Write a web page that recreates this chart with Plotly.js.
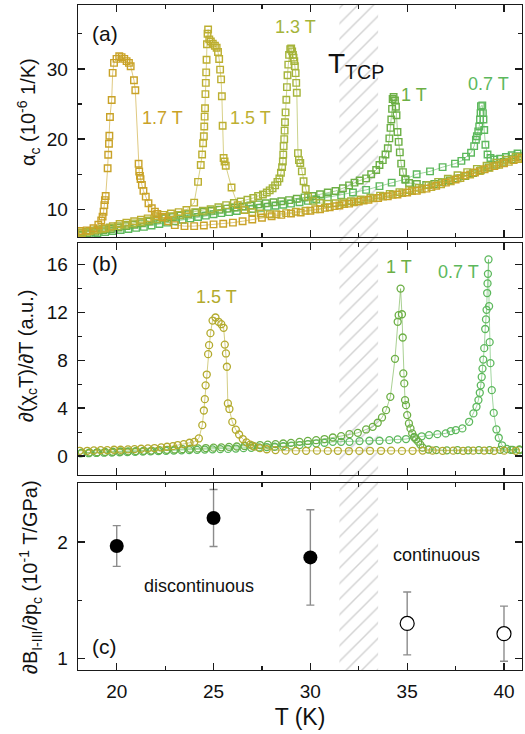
<!DOCTYPE html>
<html><head><meta charset="utf-8">
<script src="https://cdn.plot.ly/plotly-3.0.1.min.js"></script>
<style>html,body{margin:0;padding:0;background:#fff}#chart{width:525px;height:734px}</style>
</head><body><div id="chart"></div>
<script>
// ---------- Panel (a): thermal expansion alpha_c (10^-6 1/K) ----------
const Ta17 = [18.1,18.45,18.8,19.05,19.2,19.27,19.32,19.36,19.39,19.43,19.53,19.56,19.6,19.62,19.65,19.74,19.79,19.86,19.99,20.13,20.25,20.39,20.51,20.63,20.72,20.89,20.96,21.13,21.16,21.2,21.23,21.3,21.38,21.5,21.64,21.81,21.97,22.1,22.35,22.65,23.0,23.5,24.0,24.5,25.0,25.5,26.0,26.5,27.0,27.5,28.0,28.5,29.0,29.5,30.0,30.5,31.0,31.5,32.0,32.5,33.0,33.5,34.0,34.5,35.0,35.5,36.0,36.5,37.0,37.5,38.0,38.5,39.0,39.5,40.0,40.5,40.9];
const Aa17 = [6.9,7.0,7.3,7.8,8.4,8.95,9.66,10.6,11.3,11.9,15.85,17.76,19.33,20.47,23.14,25.57,29.43,30.86,31.43,31.81,31.67,31.43,31.1,30.86,30.38,28.38,26.95,16.48,15.38,14.76,14.29,13.48,12.62,11.81,10.86,10.14,9.67,9.33,8.9,8.3,7.75,7.6,7.6,7.7,7.85,7.95,8.1,8.3,8.55,8.8,9.0,9.2,9.4,9.55,9.8,10.0,10.3,10.55,10.8,11.1,11.35,11.6,11.85,12.1,12.4,12.65,12.95,13.35,13.8,14.25,14.8,15.25,15.7,16.15,16.55,17.0,17.35];

const Ta15 = [18.2,18.6,19.0,19.4,19.8,20.15,20.5,20.9,21.25,21.6,22.0,22.4,22.8,23.2,23.6,24.0,24.2,24.34,24.41,24.46,24.5,24.52,24.54,24.56,24.58,24.6,24.62,24.64,24.66,24.69,24.72,24.78,24.86,24.96,25.07,25.16,25.23,25.29,25.34,25.39,25.43,25.47,25.52,25.57,25.63,25.93,26.25,26.6,27.0,27.45,27.9,28.25,28.75,29.25,29.75,30.25,30.75,31.25,31.75,32.25,32.75,33.25,33.75,34.25,34.75,35.25,35.75,36.25,36.75,37.25,37.75,38.25,38.75,39.25,39.75,40.25,40.75];
const Aa15 = [6.6,6.9,7.1,7.3,7.6,7.9,8.1,8.3,8.5,8.7,9.0,9.2,9.4,9.6,9.9,10.95,13.9,16.3,17.8,19.4,20.4,21.8,23.2,24.4,26.4,28.0,29.5,31.3,33.5,35.0,35.6,34.2,33.9,33.6,33.3,33.0,32.4,31.4,29.9,28.5,26.1,21.9,17.3,16.8,16.2,13.1,10.6,9.9,9.6,9.4,9.3,9.3,9.45,9.65,9.8,10.0,10.2,10.45,10.75,11.0,11.25,11.55,11.8,12.05,12.3,12.6,12.85,13.15,13.55,14.0,14.45,14.95,15.45,15.9,16.35,16.75,17.15];

const Ta13 = [18.05,18.45,18.85,19.25,19.65,20.05,20.45,20.85,21.25,21.65,22.05,22.45,22.85,23.25,23.65,24.05,24.45,24.85,25.25,25.65,26.05,26.4,26.75,27.05,27.3,27.55,27.75,27.9,28.05,28.18,28.3,28.4,28.48,28.54,28.58,28.6,28.62,28.65,28.67,28.69,28.72,28.76,28.79,28.82,28.86,28.9,28.96,29.01,29.06,29.1,29.13,29.17,29.2,29.24,29.27,29.3,29.36,29.41,29.48,29.56,29.65,29.76,29.88,30.13,30.5,30.9,31.3,31.7,32.1,32.6,33.1,33.6,34.1,34.6,35.1,35.6,36.1,36.6,37.1,37.6,38.1,38.6,39.1,39.6,40.1,40.6];
const Aa13 = [6.7,6.8,7.0,7.2,7.4,7.6,7.8,8.0,8.2,8.4,8.6,8.8,9.0,9.2,9.4,9.6,9.8,10.0,10.3,10.6,10.9,11.1,11.35,11.6,11.9,12.1,12.4,12.7,13.0,13.4,13.9,14.4,15.2,16.0,16.8,17.8,19.0,20.0,21.2,22.4,23.8,25.6,27.4,29.1,30.6,32.0,32.8,32.9,32.5,32.0,31.6,31.1,30.4,29.4,28.0,26.6,18.0,17.0,16.6,15.4,14.0,12.9,11.8,11.2,10.9,10.8,10.85,11.0,11.15,11.4,11.65,11.95,12.2,12.45,12.75,13.05,13.45,13.9,14.35,14.85,15.3,15.75,16.2,16.65,17.05,17.45];

const Ta10 = [18.1,18.5,18.9,19.3,19.7,20.1,20.5,20.9,21.3,21.7,22.1,22.5,22.9,23.3,23.7,24.1,24.5,24.9,25.3,25.7,26.1,26.5,26.9,27.3,27.7,28.1,28.5,28.9,29.3,29.7,30.1,30.5,30.9,31.3,31.68,32.0,32.28,32.55,32.88,33.14,33.4,33.57,33.74,33.88,34.0,34.08,34.14,34.18,34.22,34.25,34.3,34.37,34.42,34.45,34.5,34.56,34.62,34.69,34.78,34.91,35.1,35.5,35.98,36.4,36.8,37.2,37.6,38.0,38.4,38.8,39.2,39.6,40.0,40.4,40.8];
const Aa10 = [6.4,6.6,6.8,7.0,7.2,7.4,7.6,7.8,8.0,8.25,8.5,8.7,8.9,9.1,9.3,9.5,9.65,9.8,9.95,10.1,10.25,10.4,10.55,10.7,10.85,11.0,11.15,11.3,11.5,11.7,11.9,12.15,12.4,12.6,13.0,13.4,13.8,14.1,14.4,15.0,15.6,16.3,17.0,17.8,18.7,20.1,21.6,22.8,24.3,25.7,26.0,25.5,24.6,23.4,21.0,19.6,18.1,16.5,15.3,14.2,13.75,13.6,13.45,13.6,13.85,14.1,14.4,14.75,15.15,15.55,15.95,16.35,16.75,17.15,17.55];

const Ta07 = [18.2,18.6,19.0,19.4,19.8,20.2,20.6,21.0,21.4,21.8,22.2,22.6,23.0,23.4,23.8,24.2,24.6,25.0,25.4,25.8,26.2,26.6,27.0,27.4,27.8,28.2,28.6,29.0,29.44,29.87,30.3,30.9,31.59,32.2,32.88,33.57,34.2,34.91,35.49,36.18,36.83,37.47,37.8,38.04,38.3,38.46,38.55,38.6,38.67,38.72,38.76,38.79,38.81,38.88,38.91,38.94,38.98,39.04,39.15,39.3,39.5,39.8,40.1,40.4,40.7];
const Aa07 = [6.3,6.45,6.6,6.75,6.9,7.05,7.2,7.35,7.5,7.7,7.9,8.1,8.3,8.5,8.7,8.9,9.1,9.3,9.45,9.6,9.75,9.9,10.05,10.2,10.35,10.5,10.65,10.8,11.0,11.2,11.4,11.7,12.0,12.4,12.76,13.3,13.8,14.3,15.0,15.4,16.0,16.5,16.9,17.5,18.05,19.0,19.9,20.4,21.1,21.8,22.8,23.7,24.7,24.8,23.7,22.8,21.3,19.2,17.8,17.3,17.1,17.2,17.45,17.7,17.95];

// ---------- Panel (b): d(chi_c T)/dT (a.u.) ----------
const Tb15 = [18.09,18.48,18.82,19.17,19.51,19.86,20.2,20.58,20.92,21.26,21.61,21.95,22.3,22.6,22.9,23.15,23.46,23.76,24.01,24.24,24.42,24.5,24.55,24.59,24.65,24.72,24.77,24.84,24.95,25.1,25.26,25.4,25.52,25.58,25.64,25.69,25.74,25.82,25.97,26.15,26.32,26.51,26.7,26.89,27.1,27.4,27.75,28.2,28.72,29.25,29.78,30.34,30.9,31.42,31.99,32.53,33.08,33.65,34.17,34.73,35.28,35.8,36.31,36.83,37.38,37.89,38.41,38.98,39.49,40.01,40.61];
const Vb15 = [0.44,0.44,0.47,0.5,0.5,0.53,0.53,0.56,0.58,0.61,0.64,0.67,0.72,0.78,0.83,0.92,1.0,1.11,1.19,1.47,2.58,3.8,4.75,5.9,6.8,8.5,9.25,10.25,11.3,11.56,11.2,11.0,10.7,9.3,8.56,7.45,4.39,3.93,2.85,2.2,1.8,1.42,1.14,0.95,0.8,0.66,0.57,0.5,0.45,0.43,0.44,0.45,0.43,0.44,0.42,0.43,0.44,0.44,0.45,0.43,0.44,0.46,0.45,0.44,0.45,0.44,0.45,0.46,0.44,0.45,0.44];

const Tb10 = [18.2,18.6,19.0,19.4,19.8,20.2,20.6,21.0,21.4,21.8,22.2,22.6,23.0,23.4,23.8,24.2,24.6,25.0,25.4,25.8,26.2,26.6,27.0,27.4,27.8,28.2,28.6,29.0,29.44,29.87,30.3,30.73,31.16,31.59,32.02,32.45,32.88,33.22,33.48,33.7,33.91,34.13,34.37,34.51,34.56,34.66,34.73,34.77,34.8,34.85,34.89,34.94,35.0,35.09,35.17,35.26,35.36,35.46,35.57,35.68,35.8,36.1,36.5,37.05,37.6,38.15,38.7,39.25,39.8,40.35,40.8];
const Vb10 = [0.28,0.3,0.32,0.34,0.36,0.38,0.4,0.42,0.44,0.46,0.49,0.52,0.55,0.58,0.61,0.64,0.67,0.7,0.73,0.77,0.8,0.84,0.88,0.92,0.96,1.0,1.05,1.1,1.19,1.26,1.33,1.42,1.55,1.67,1.83,1.94,2.22,2.44,2.78,3.22,3.83,4.94,8.11,11.2,11.75,13.97,11.83,9.89,6.89,6.06,4.67,4.25,3.42,2.72,2.31,1.89,1.6,1.4,1.2,0.95,0.7,0.55,0.5,0.48,0.5,0.48,0.5,0.5,0.52,0.52,0.55];

const Tb07 = [18.15,18.55,18.95,19.35,19.75,20.15,20.55,20.95,21.35,21.75,22.15,22.55,22.95,23.35,23.75,24.15,24.55,24.95,25.35,25.75,26.15,26.55,26.95,27.35,27.75,28.15,28.6,29.02,29.44,29.87,30.3,30.73,31.16,31.59,32.02,32.54,33.05,33.57,34.08,34.51,34.94,35.37,35.75,36.13,36.56,36.99,37.25,37.51,37.85,38.2,38.42,38.58,38.68,38.75,38.8,38.85,38.89,38.93,38.98,39.03,39.07,39.1,39.13,39.15,39.17,39.2,39.23,39.26,39.3,39.37,39.47,39.61,39.73,39.9,40.15,40.45,40.8];
const Vb07 = [0.22,0.24,0.26,0.28,0.3,0.32,0.34,0.36,0.38,0.4,0.42,0.44,0.46,0.48,0.5,0.52,0.54,0.56,0.58,0.6,0.63,0.66,0.69,0.72,0.75,0.78,0.82,0.87,0.92,1.0,1.06,1.11,1.19,1.19,1.19,1.25,1.28,1.28,1.33,1.39,1.42,1.55,1.65,1.75,1.83,1.89,2.08,2.17,2.31,2.86,3.56,4.11,4.67,5.28,5.9,6.6,7.3,8.05,9.0,10.6,11.4,12.2,13.6,14.4,15.2,16.4,12.5,9.5,7.75,5.5,3.6,2.22,1.53,0.9,0.6,0.52,0.5];

// ---------- Panel (c): dB_I-III/dp_c (10^-1 T/GPa) ----------
const Tc_disc = [20, 25, 30];
const Vc_disc = [1.966, 2.206, 1.868];
const Ec_disc = [0.175, 0.245, 0.41];
const Tc_cont = [35, 40];
const Vc_cont = [1.30, 1.212];
const Ec_cont = [0.27, 0.237];

// tricritical temperature band (K)
const tcpBand = [31.5, 33.5];

// ---------- styling ----------
const FONT = 'Liberation Sans, Arial, sans-serif';
const col = {b17:'#C9A227', b15:'#BDAF31', b13:'#A5B43A', b10:'#6CAF45', b07:'#5CB85C'};
function rgba(hex, a){const n=parseInt(hex.slice(1),16);return `rgba(${n>>16},${(n>>8)&255},${n&255},${a})`;}
function sqTrace(x,y,c){return {x,y,xaxis:'x2',yaxis:'y2',type:'scatter',mode:'lines+markers',
  line:{color:rgba(c,0.65),width:0.9},marker:{symbol:'square-open',size:6.5,color:c,line:{width:1.4,color:c}},hoverinfo:'skip'};}
function ciTrace(x,y,c){return {x,y,xaxis:'x3',yaxis:'y3',type:'scatter',mode:'lines+markers',
  line:{color:rgba(c,0.65),width:0.9},marker:{symbol:'circle-open',size:7,color:c,line:{width:1.3,color:c}},hoverinfo:'skip'};}

const traces = [
  {x:[tcpBand[0],tcpBand[1],tcpBand[1],tcpBand[0],tcpBand[0]], y:[0,0,1,1,0], xaxis:'x', yaxis:'y',
   type:'scatter', mode:'none', fill:'toself', fillcolor:'rgba(0,0,0,0)',
   fillpattern:{shape:'/', fgcolor:'#d2d2d2', bgcolor:'rgba(0,0,0,0)', size:11, solidity:0.13}, hoverinfo:'skip'},
  sqTrace(Ta07,Aa07,col.b07), sqTrace(Ta10,Aa10,col.b10), sqTrace(Ta13,Aa13,col.b13),
  sqTrace(Ta15,Aa15,col.b15), sqTrace(Ta17,Aa17,col.b17),
  ciTrace(Tb07,Vb07,col.b07), ciTrace(Tb10,Vb10,col.b10), ciTrace(Tb15,Vb15,'#B3AA2C'),
  {x:Tc_disc,y:Vc_disc,xaxis:'x4',yaxis:'y4',type:'scatter',mode:'markers',
   error_y:{type:'data',array:Ec_disc,color:'#8c8c8c',thickness:1.4,width:4},
   marker:{symbol:'circle',size:14,color:'#000'},hoverinfo:'skip'},
  {x:Tc_cont,y:Vc_cont,xaxis:'x4',yaxis:'y4',type:'scatter',mode:'markers',
   error_y:{type:'data',array:Ec_cont,color:'#8c8c8c',thickness:1.4,width:4},
   marker:{symbol:'circle',size:14,color:'#fff',line:{color:'#000',width:1.2}},hoverinfo:'skip'}
];

const xRange = [18, 40.93];
const AX = '#1a1a1a';
function xAx(anchor, labels){return {domain:[0,1], anchor, range:xRange, showline:true, linecolor:AX, linewidth:1.3,
  mirror:'ticks', ticks:'inside', ticklen:7, tickwidth:1.3, tickcolor:AX, tick0:0, dtick:5,
  minor:{ticks:'inside', ticklen:4, tickwidth:1.1, tickcolor:AX, dtick:2.5, tick0:0},
  showgrid:false, zeroline:false, showticklabels:labels, ticklabelstandoff:4,
  tickfont:{family:FONT,size:19,color:'#111'}};}
function yAx(anchor, domain, range, dtick){return {domain, anchor, range, showline:true, linecolor:AX, linewidth:1.3,
  mirror:'ticks', ticks:'inside', ticklen:7, tickwidth:1.3, tickcolor:AX, tick0:0, dtick,
  minor:{ticks:'inside', ticklen:4, tickwidth:1.1, tickcolor:AX, dtick:dtick/2, tick0:0},
  showgrid:false, zeroline:false, ticklabelstandoff:5, tickfont:{family:FONT,size:19,color:'#111'}};}

// pixel -> paper helper for annotation placement (plot area: x 78..522, y 5..670)
const PX = px => (px-78)/444, PY = py => (670-py)/665;
function lab(text, px, py, size, color, angle){return {text, xref:'paper', yref:'paper', x:PX(px), y:PY(py),
  showarrow:false, xanchor:'center', yanchor:'middle', textangle:angle||0,
  font:{family:FONT, size, color}};}

const x4 = xAx('y4', true);
x4.title = {text:'T (K)', font:{family:FONT,size:23,color:'#111'}, standoff:7};

const layout = {
  width:525, height:734, margin:{l:78, r:3, t:5, b:64},
  paper_bgcolor:'#fff', plot_bgcolor:'rgba(0,0,0,0)', showlegend:false,
  font:{family:FONT, color:'#111'},
  xaxis:{domain:[0,1], range:xRange, visible:false, anchor:'y'},
  yaxis:{domain:[0,1], range:[0,1], visible:false, anchor:'x'},
  xaxis2:xAx('y2', false), xaxis3:xAx('y3', false), xaxis4:x4,
  yaxis2:yAx('x2',[0.6511,1],[6.05,39.1],10),
  yaxis3:yAx('x3',[0.2932,0.6417],[-1.58,17.75],4),
  yaxis4:yAx('x4',[0,0.2808],[0.9,2.505],1),
  annotations:[
    lab('(a)',105,33,21,'#111'), lab('(b)',105,263,21,'#111'), lab('(c)',104,646,21,'#111'),
    lab('1.7 T',162,118,18,col.b17), lab('1.5 T',250,118,18,col.b15), lab('1.3 T',295,27,18,col.b13),
    lab('T<sub>TCP</sub>',356,66,28,'#111'),
    lab('1 T',414,95,18,col.b10), lab('0.7 T',488,84,18,col.b07),
    lab('1.5 T',216,297,18,'#B3AA2C'), lab('1 T',399,267,18,col.b10), lab('0.7 T',458,272,18,col.b07),
    lab('discontinuous',199,586,18,'#111'), lab('continuous',436,555,18,'#111'),
    lab('α<sub>c</sub> (10<sup>-6</sup> 1/K)',28,112,20,'#111',-90),
    lab('∂(χ<sub>c</sub>T)/∂T (a.u.)',27,356,20,'#111',-90),
    lab('∂B<sub>I-III</sub>/∂p<sub>c</sub> (10<sup>-1</sup> T/GPa)',30,577,20,'#111',-90)
  ]
};
Plotly.newPlot('chart', traces, layout, {staticPlot:true, displayModeBar:false});
</script></body></html>
